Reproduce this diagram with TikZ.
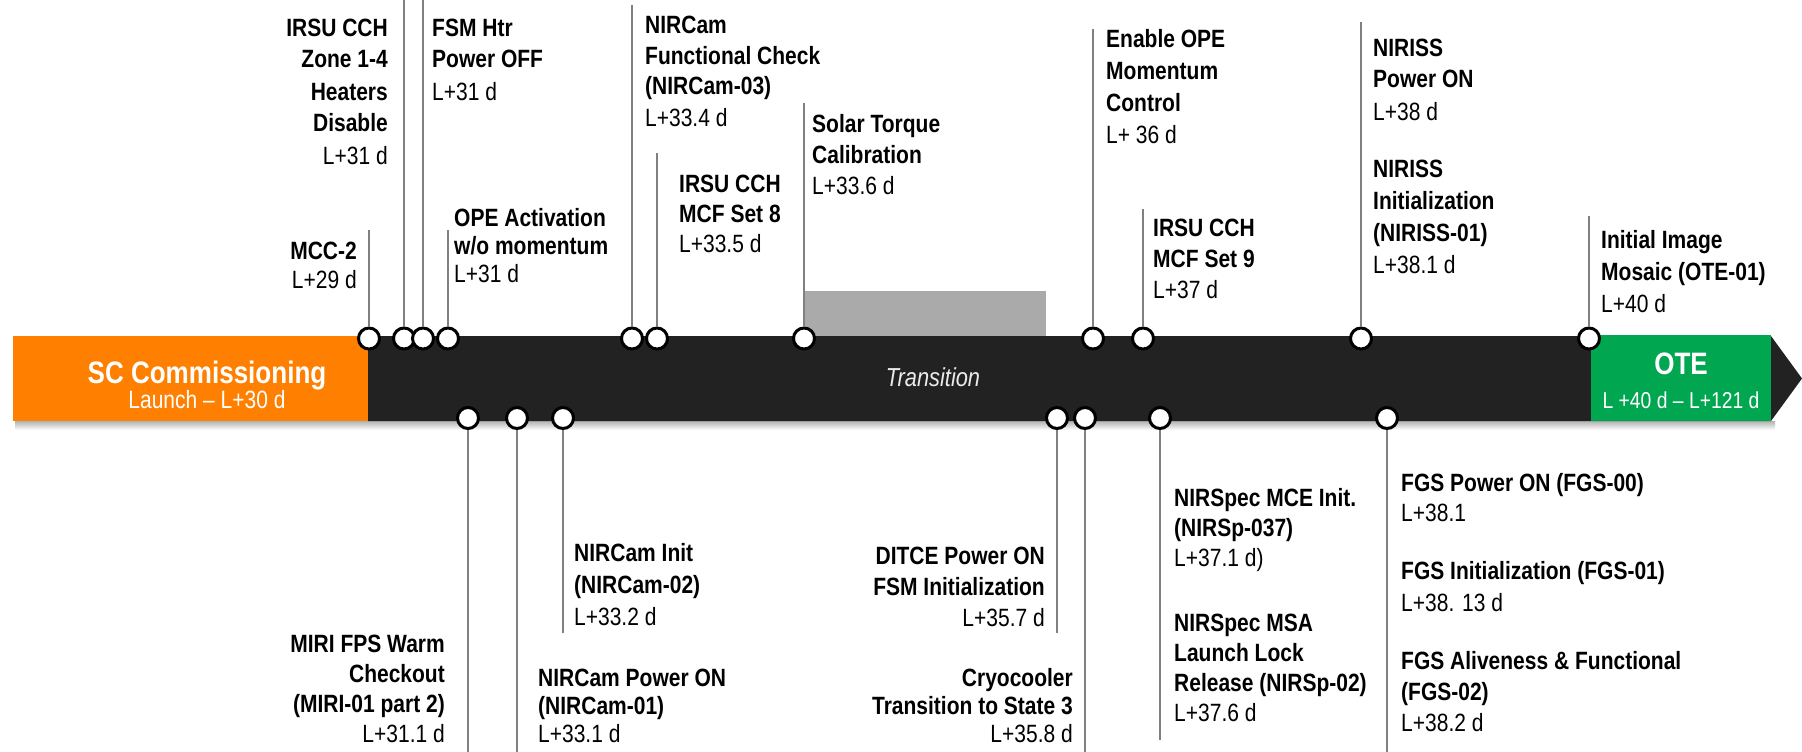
\documentclass[tikz,border=0pt]{standalone}
\usepackage{fontspec}
\setmainfont{Liberation Sans}[FakeStretch=0.84]
\usetikzlibrary{positioning}

\definecolor{scorange}{RGB}{255,128,0}
\definecolor{otegreen}{RGB}{0,166,80}
\definecolor{barblack}{RGB}{34,34,34}
\definecolor{solargray}{RGB}{170,170,170}
\definecolor{stemgray}{RGB}{128,128,128}
\definecolor{transtext}{RGB}{235,235,235}

\begin{document}
\begin{tikzpicture}[
    x=1pt, y=-1pt,
    ev/.style={inner sep=0pt, font=\fontsize{25}{31}\selectfont},
    evl/.style={ev, anchor=base west, align=left},
    evr/.style={ev, anchor=base east, align=right},
    dot/.style={circle, draw=black, line width=3pt, fill=white, minimum size=21pt, inner sep=0pt},
    stem/.style={draw=stemgray, line width=2pt},
    phase/.style={rectangle, inner sep=0pt, minimum height=85pt}
]
\useasboundingbox (0,0) rectangle (1802,752);

% timeline bar
\shade[top color=black!30, bottom color=white] (15,421) rectangle (1775,430);
\fill[barblack] (368,336) -- (1771,336) -- (1802,378.5) -- (1771,421) -- (368,421) -- cycle;
\node[phase, fill=scorange, minimum width=355pt] (sc) at (190.5,378.5) {};
\node[phase, fill=otegreen, minimum width=180pt, minimum height=86pt] (ote) at (1681,378) {};
\fill[solargray] (804,291) rectangle (1046,336);

\node[inner sep=0pt, anchor=base, text=white, font=\fontsize{31}{33}\selectfont\bfseries] (sctitle) at (207,383) {SC Commissioning};
\node[inner sep=0pt, anchor=base, text=white, font=\fontsize{25}{27}\selectfont] (scdates) at (207,408) {Launch -- L+30 d};
\node[inner sep=0pt, anchor=base, text=transtext, font=\fontsize{26}{28}\selectfont\itshape] (trans) at (933,386) {Transition};
\node[inner sep=0pt, anchor=base, text=white, font=\fontsize{31}{33}\selectfont\bfseries] (otetitle) at (1681,374) {OTE};
\node[inner sep=0pt, anchor=base, text=white, font=\fontsize{23}{25}\selectfont] (otedates) at (1681,408) {L +40 d -- L+121 d};

% events above the bar (base = last line)
\node[dot] (mcc) at (369,338.5) {};
\node[dot] (zoneheat) at (404,338.5) {};
\node[dot] (fsmhtr) at (423,338.5) {};
\node[dot] (opeact) at (448,338.5) {};
\node[dot] (camfunc) at (632,338.5) {};
\node[dot] (mcfeight) at (657,338.5) {};
\node[dot] (solar) at (804,338.5) {};
\node[dot] (opemom) at (1093,338.5) {};
\node[dot] (mcfnine) at (1143,338.5) {};
\node[dot] (niriss) at (1361,338.5) {};
\node[dot] (mosaic) at (1589,338.5) {};

\coordinate (mcc-end) at (369,230);
\coordinate (zoneheat-end) at (404,0);
\coordinate (fsmhtr-end) at (423,0);
\coordinate (opeact-end) at (448,230);
\coordinate (camfunc-end) at (632,5);
\coordinate (mcfeight-end) at (657,153);
\coordinate (solar-end) at (804,103);
\coordinate (opemom-end) at (1093,29);
\coordinate (mcfnine-end) at (1143,209);
\coordinate (niriss-end) at (1361,22);
\coordinate (mosaic-end) at (1589,216);

\foreach \ev in {mcc,zoneheat,fsmhtr,opeact,camfunc,mcfeight,solar,opemom,mcfnine,niriss,mosaic}
    \draw[stem] (\ev) -- (\ev-end);

\node[evr, font=\fontsize{25}{29}\selectfont] (mcc-txt) at (357,288) {\textbf{MCC-2}\\L+29 d};
\node[evr, font=\fontsize{25}{32}\selectfont] (zoneheat-txt) at (388,164) {\textbf{IRSU CCH}\\\textbf{Zone 1-4}\\\textbf{Heaters}\\\textbf{Disable}\\L+31 d};
\node[evl, font=\fontsize{25}{32}\selectfont] (fsmhtr-txt) at (432,100) {\textbf{FSM Htr}\\\textbf{Power OFF}\\L+31 d};
\node[evl, font=\fontsize{25}{28}\selectfont] (opeact-txt) at (454,282) {\textbf{OPE Activation}\\\textbf{w/o momentum}\\L+31 d};
\node[evl] (camfunc-txt) at (645,126) {\textbf{NIRCam}\\\textbf{Functional Check}\\\textbf{(NIRCam-03)}\\L+33.4 d};
\node[evl, font=\fontsize{25}{30}\selectfont] (mcfeight-txt) at (679,252) {\textbf{IRSU CCH}\\\textbf{MCF Set 8}\\L+33.5 d};
\node[evl] (solar-txt) at (812,194) {\textbf{Solar Torque}\\\textbf{Calibration}\\L+33.6 d};
\node[evl, font=\fontsize{25}{32}\selectfont] (opemom-txt) at (1106,143) {\textbf{Enable OPE}\\\textbf{Momentum}\\\textbf{Control}\\L+ 36 d};
\node[evl] (mcfnine-txt) at (1153,298) {\textbf{IRSU CCH}\\\textbf{MCF Set 9}\\L+37 d};
\node[evl, font=\fontsize{25}{32}\selectfont] (nirisson-txt) at (1373,120) {\textbf{NIRISS}\\\textbf{Power ON}\\L+38 d};
\node[evl, font=\fontsize{25}{32}\selectfont] (nirissinit-txt) at (1373,273) {\textbf{NIRISS}\\\textbf{Initialization}\\\textbf{(NIRISS-01)}\\L+38.1 d};
\node[evl, font=\fontsize{25}{32}\selectfont] (mosaic-txt) at (1601,312) {\textbf{Initial Image}\\\textbf{Mosaic (OTE-01)}\\L+40 d};

% events below the bar
\node[dot] (miri) at (468,418) {};
\node[dot] (campwr) at (517,418) {};
\node[dot] (caminit) at (563,418) {};
\node[dot] (ditce) at (1057,418) {};
\node[dot] (cryo) at (1085,418) {};
\node[dot] (nirspec) at (1160,418) {};
\node[dot] (fgs) at (1387,418) {};

\coordinate (miri-end) at (468,752);
\coordinate (campwr-end) at (517,752);
\coordinate (caminit-end) at (563,633);
\coordinate (ditce-end) at (1057,633);
\coordinate (cryo-end) at (1085,752);
\coordinate (nirspec-end) at (1160,740);
\coordinate (fgs-end) at (1387,752);

\foreach \ev in {miri,campwr,caminit,ditce,cryo,nirspec,fgs}
    \draw[stem] (\ev) -- (\ev-end);

\node[evl, font=\fontsize{25}{32}\selectfont] (caminit-txt) at (574,625) {\textbf{NIRCam Init}\\\textbf{(NIRCam-02)}\\L+33.2 d};
\node[evr, font=\fontsize{25}{30}\selectfont] (miri-txt) at (445,742) {\textbf{MIRI FPS Warm}\\\textbf{Checkout}\\\textbf{(MIRI-01 part 2)}\\L+31.1 d};
\node[evl, font=\fontsize{25}{28}\selectfont] (campwr-txt) at (538,742) {\textbf{NIRCam Power ON}\\\textbf{(NIRCam-01)}\\L+33.1 d};
\node[evr] (ditce-txt) at (1045,626) {\textbf{DITCE Power ON}\\\textbf{FSM Initialization}\\L+35.7 d};
\node[evr, font=\fontsize{25}{28}\selectfont] (cryo-txt) at (1073,742) {\textbf{Cryocooler}\\\textbf{Transition to State 3}\\L+35.8 d};
\node[evl, font=\fontsize{25}{30}\selectfont] (mce-txt) at (1174,566) {\textbf{NIRSpec MCE Init.}\\\textbf{(NIRSp-037)}\\L+37.1 d)};
\node[evl, font=\fontsize{25}{30}\selectfont] (msa-txt) at (1174,721) {\textbf{NIRSpec MSA}\\\textbf{Launch Lock}\\\textbf{Release (NIRSp-02)}\\L+37.6 d};
\node[evl, font=\fontsize{25}{30}\selectfont] (fgson-txt) at (1401,521) {\textbf{FGS Power ON (FGS-00)}\\L+38.1};
\node[evl, font=\fontsize{25}{32}\selectfont] (fgsinit-txt) at (1401,611) {\textbf{FGS Initialization (FGS-01)}\\L+38. 13 d};
\node[evl] (fgsalive-txt) at (1401,731) {\textbf{FGS Aliveness \& Functional}\\\textbf{(FGS-02)}\\L+38.2 d};

\end{tikzpicture}
\end{document}
